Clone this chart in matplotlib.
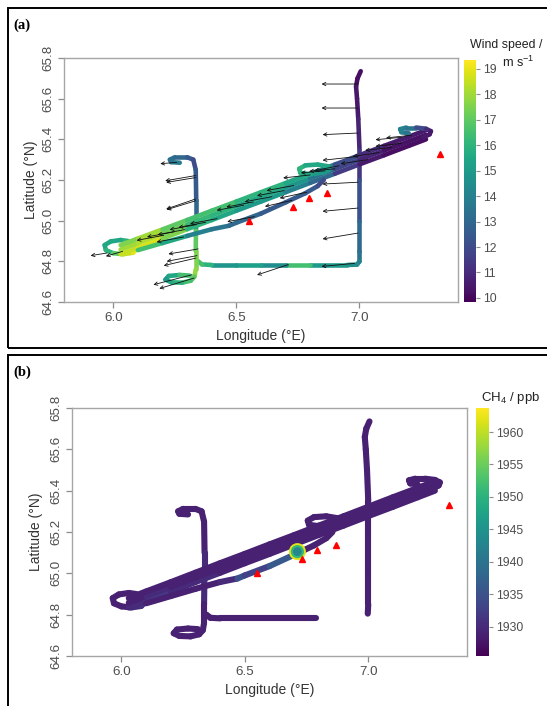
import matplotlib
matplotlib.use('Agg')
import numpy as np
import matplotlib.pyplot as plt
from matplotlib.collections import LineCollection
from matplotlib.colors import Normalize
from matplotlib.cm import ScalarMappable
from matplotlib.patches import Rectangle

plt.rcParams['font.family'] = ['Liberation Sans', 'DejaVu Sans']
plt.rcParams['mathtext.fontset'] = 'custom'
plt.rcParams['mathtext.rm'] = 'Liberation Sans'
plt.rcParams['mathtext.it'] = 'Liberation Sans:italic'

# ---------------- track geometry (lon, lat) ----------------
# east vertical leg + southern E-W leg (panel a)
E_lon = [7.005, 6.992, 6.986, 6.990, 6.995, 7.000, 7.000, 7.000, 7.000, 7.000, 6.990, 6.950, 6.800, 6.700, 6.600, 6.500, 6.400, 6.360, 6.345]
E_lat = [65.735, 65.700, 65.660, 65.600, 65.500, 65.350, 65.200, 65.000, 64.850, 64.800, 64.784, 64.782, 64.782, 64.782, 64.782, 64.782, 64.782, 64.785, 64.800]
E_ws = [10.2, 10.2, 10.4, 10.5, 10.8, 11.4, 12.2, 13.0, 13.4, 14.0, 14.5, 15.0, 16.5, 14.5, 15.2, 14.8, 16.0, 16.5, 17.0]

# panel b: east vertical leg and southern leg are separate
Eb_lon = [7.005, 6.992, 6.986, 6.990, 6.995, 7.000, 7.000, 7.000, 7.000, 6.998]
Eb_lat = [65.735, 65.700, 65.660, 65.600, 65.500, 65.350, 65.200, 65.000, 64.850, 64.805]
Eb_ch4 = [1929, 1929, 1929, 1929, 1929, 1929, 1929, 1929, 1929, 1929]
S_lon = [6.790, 6.700, 6.600, 6.500, 6.400, 6.360, 6.345]
S_lat = [64.782, 64.782, 64.782, 64.782, 64.782, 64.785, 64.800]
S_ch4 = [1929, 1929, 1929, 1929, 1929, 1929, 1929]

# west vertical leg with its two turns
W_lon = [6.270, 6.235, 6.230, 6.250, 6.300, 6.325, 6.335, 6.337, 6.337, 6.336, 6.335, 6.335, 6.330, 6.315, 6.280, 6.235, 6.212, 6.225, 6.270, 6.310]
W_lat = [65.285, 65.288, 65.300, 65.312, 65.312, 65.300, 65.250, 65.100, 65.000, 64.950, 64.850, 64.760, 64.725, 64.705, 64.695, 64.697, 64.710, 64.728, 64.733, 64.730]
W_ws = [13.8, 13.6, 13.3, 13.0, 12.5, 12.0, 12.5, 13.0, 15.0, 17.0, 17.5, 17.8, 17.0, 16.5, 16.0, 15.5, 15.0, 15.5, 16.5, 17.5]
W_ch4 = [1929, 1929, 1929, 1929, 1929, 1929, 1929, 1930, 1933, 1930, 1929, 1929, 1929, 1929, 1929, 1929, 1929, 1929, 1929, 1929]

# three passes along the long diagonal
D_lon = [6.030, 6.100, 6.200, 6.300, 6.400, 6.500, 6.600, 6.700, 6.800, 6.900, 7.000, 7.100, 7.200, 7.270]
D1_lat = [64.880, 64.912, 64.957, 65.003, 65.049, 65.094, 65.140, 65.185, 65.231, 65.276, 65.322, 65.368, 65.413, 65.445]
D2_lat = [64.835, 64.867, 64.912, 64.958, 65.003, 65.049, 65.094, 65.140, 65.186, 65.231, 65.277, 65.322, 65.368, 65.400]
D3_lat = [64.858, 64.890, 64.935, 64.980, 65.026, 65.072, 65.117, 65.163, 65.208, 65.254, 65.300, 65.345, 65.390, 65.422]
D1_ws = [17.5, 18.0, 17.0, 16.5, 16.5, 16.0, 16.0, 15.5, 14.0, 12.0, 11.0, 10.5, 10.5, 11.0]
D2_ws = [18.5, 18.8, 17.5, 16.0, 15.5, 15.0, 15.0, 14.0, 13.0, 11.5, 10.5, 10.2, 10.2, 10.2]
D3_ws = [18.0, 18.2, 17.2, 16.2, 16.0, 15.5, 15.5, 14.8, 13.5, 11.8, 10.8, 10.3, 10.3, 10.5]
D1_ch4 = [1929, 1929, 1929, 1929, 1929, 1929, 1929, 1929, 1929, 1929, 1929, 1929, 1929, 1929]
D2_ch4 = [1930, 1932, 1930, 1930, 1929, 1929, 1929, 1929, 1929, 1929, 1929, 1929, 1929, 1929]
D3_ch4 = [1929, 1930, 1929, 1929, 1929, 1929, 1929, 1929, 1929, 1929, 1929, 1929, 1929, 1929]

# western turn
L_lon = [6.060, 6.030, 5.990, 5.965, 5.970, 6.000, 6.040, 6.080, 6.095, 6.080, 6.050]
L_lat = [64.900, 64.905, 64.898, 64.880, 64.855, 64.840, 64.835, 64.842, 64.860, 64.880, 64.890]
L_ws = [16.0, 15.5, 15.5, 15.5, 16.0, 17.0, 18.5, 19.0, 19.0, 18.0, 17.0]
L_ch4 = [1929, 1929, 1929, 1929, 1929, 1929, 1930, 1931, 1930, 1929, 1929]

# eastern turn
R_lon = [7.200, 7.170, 7.165, 7.190, 7.230, 7.270, 7.290, 7.285, 7.260]
R_lat = [65.430, 65.435, 65.450, 65.458, 65.458, 65.452, 65.440, 65.425, 65.410]
R_ws = [13.5, 14.0, 14.0, 13.5, 12.0, 11.0, 10.5, 10.5, 10.5]
R_ch4 = [1929, 1929, 1929, 1929, 1929, 1929, 1929, 1929, 1929]

# turn near 6.8 E
M_lon = [6.840, 6.800, 6.760, 6.755, 6.780, 6.830, 6.870, 6.875, 6.850]
M_lat = [65.235, 65.228, 65.235, 65.255, 65.272, 65.276, 65.268, 65.250, 65.235]
M_ws = [15.0, 15.5, 16.0, 16.0, 15.5, 15.5, 15.5, 15.0, 14.5]
M_ch4 = [1929, 1929, 1929, 1929, 1929, 1929, 1929, 1929, 1929]

# lower branch
B_lon = [6.100, 6.200, 6.300, 6.400, 6.470, 6.500, 6.600, 6.700, 6.780, 6.830, 6.855]
B_lat = [64.855, 64.890, 64.925, 64.958, 64.975, 64.990, 65.035, 65.090, 65.135, 65.170, 65.200]
B_ws = [16.5, 15.5, 14.0, 13.5, 13.0, 13.0, 12.5, 12.5, 12.5, 12.0, 11.5]
B_ch4 = [1929, 1929, 1929, 1930, 1935, 1933, 1936, 1929, 1929, 1929, 1929]

# CH4 peak
peak_lon = [6.713, 6.713, 6.713]
peak_lat = [65.105, 65.105, 65.105]
peak_ch4 = [1962, 1951, 1943]

# platforms (red triangles)
plat_lon = [6.550, 6.730, 6.793, 6.870, 7.327]
plat_lat = [65.000, 65.067, 65.113, 65.136, 65.330]

# wind arrows: tail position and vector (deg)
arr_lon = [6.994, 6.994, 6.994, 6.994, 6.994, 6.994, 6.994, 6.980,
           6.258, 6.335, 6.335, 6.335, 6.335, 6.345, 6.340, 6.336, 6.320, 6.329, 6.711, 5.975, 6.038,
           6.205, 6.247, 6.290, 6.339, 6.375, 6.422, 6.530, 6.569, 6.644, 6.694, 6.733, 6.800, 6.860, 6.900,
           6.917, 7.033, 7.080, 7.130, 7.170, 7.170, 7.210, 6.286, 6.573, 6.726, 6.786]
arr_lat = [65.672, 65.554, 65.431, 65.316, 65.189, 65.062, 64.939, 64.790,
           65.287, 65.222, 65.212, 65.107, 65.098, 64.861, 64.828, 64.816, 64.734, 64.718, 64.784, 64.841, 64.849,
           64.928, 64.945, 64.956, 64.981, 64.992, 65.010, 65.076, 65.092, 65.118, 65.148, 65.173, 65.225, 65.245, 65.255,
           65.270, 65.300, 65.335, 65.360, 65.380, 65.410, 65.420, 64.920, 65.020, 65.100, 65.140]
arr_u = [-0.148, -0.148, -0.144, -0.144, -0.144, -0.144, -0.144, -0.134,
         -0.067, -0.124, -0.120, -0.120, -0.118, -0.121, -0.123, -0.131, -0.157, -0.142, -0.127, -0.067, -0.068,
         -0.110, -0.110, -0.110, -0.110, -0.110, -0.110, -0.110, -0.110, -0.110, -0.110, -0.110, -0.110, -0.098, -0.104,
         -0.100, -0.110, -0.107, -0.107, -0.105, -0.105, -0.102, -0.110, -0.110, -0.110, -0.110]
arr_v = [0.000, 0.000, -0.008, -0.019, -0.009, -0.016, -0.029, -0.015,
         -0.007, -0.026, -0.024, -0.050, -0.044, -0.025, -0.028, -0.037, -0.049, -0.052, -0.051, -0.013, -0.024,
         -0.025, -0.025, -0.025, -0.025, -0.025, -0.025, -0.025, -0.025, -0.025, -0.025, -0.025, -0.015, -0.010, -0.012,
         -0.024, -0.020, -0.019, -0.014, -0.014, -0.012, -0.013, -0.025, -0.025, -0.030, -0.029]

xticks = [6.0, 6.5, 7.0]
yticks = [64.6, 64.8, 65.0, 65.2, 65.4, 65.6, 65.8]
ws_ticks = [10, 11, 12, 13, 14, 15, 16, 17, 18, 19]
ch4_ticks = [1930, 1935, 1940, 1945, 1950, 1955, 1960]

W, H = 547, 706
fig = plt.figure(figsize=(W / 100, H / 100), dpi=100)

def fr(x0, y0, x1, y1):
    return [x0 / W, 1 - y1 / H, (x1 - x0) / W, (y1 - y0) / H]

cmap = plt.get_cmap('viridis')

def draw_track(ax, lon, lat, val, norm, lw):
    pts = np.column_stack([lon, lat])
    segs = np.stack([pts[:-1], pts[1:]], axis=1)
    lc = LineCollection(segs, cmap=cmap, norm=norm, linewidths=lw,
                        capstyle='round', joinstyle='round', zorder=2)
    lc.set_array(np.asarray(val[:-1], dtype=float))
    ax.add_collection(lc)

def style(ax, ylab_pad):
    ax.set_xlim(5.8, 7.4)
    ax.set_ylim(64.6, 65.8)
    ax.set_xticks(xticks)
    ax.set_xticklabels([f'{t:.1f}' for t in xticks])
    ax.set_yticks(yticks)
    ax.set_yticklabels([f'{t:.1f}' for t in yticks])
    for s in ax.spines.values():
        s.set_color('#a6a6a6')
        s.set_linewidth(1.0)
    ax.tick_params(colors='#8c8c8c', labelcolor='#4d4d4d', length=4, width=0.9, labelsize=9.6, pad=3)
    ax.tick_params(axis='y', labelrotation=90)
    for t in ax.get_yticklabels():
        t.set_va('center')
    ax.set_xlabel('Longitude (°E)', fontsize=10, color='#333333', labelpad=4)
    ax.set_ylabel('Latitude (°N)', fontsize=10, color='#333333', labelpad=ylab_pad)

def style_cb(cax, ticks):
    cax.set_yticks(ticks)
    cax.tick_params(colors='#8c8c8c', labelcolor='#4d4d4d', length=3, width=0.8, labelsize=8.8, pad=2)
    cax.yaxis.set_ticks_position('right')

# ---------------- panel (a) ----------------
ax1 = fig.add_axes(fr(64, 58, 458, 302))
norm_ws = Normalize(9.84, 19.35)
lw_a = 3.3
for lon, lat, val in [(E_lon, E_lat, E_ws), (W_lon, W_lat, W_ws), (L_lon, L_lat, L_ws),
                      (D_lon, D2_lat, D2_ws), (D_lon, D3_lat, D3_ws), (D_lon, D1_lat, D1_ws),
                      (B_lon, B_lat, B_ws), (M_lon, M_lat, M_ws), (R_lon, R_lat, R_ws)]:
    draw_track(ax1, lon, lat, val, norm_ws, lw_a)
for x, y, u, v in zip(arr_lon, arr_lat, arr_u, arr_v):
    ax1.annotate('', xy=(x + u, y + v), xytext=(x, y),
                 arrowprops=dict(arrowstyle='->', color='#111111', lw=0.6,
                                 mutation_scale=6, shrinkA=0, shrinkB=0), zorder=3)
ax1.plot(plat_lon, plat_lat, linestyle='none', marker='^', color='#ff0000', markersize=3.8, zorder=4)
style(ax1, 3)

cax1 = fig.add_axes(fr(464, 60, 476, 302))
cb1 = fig.colorbar(ScalarMappable(norm=norm_ws, cmap=cmap), cax=cax1)
cb1.outline.set_visible(False)
style_cb(cax1, ws_ticks)
fig.text(470 / W, 1 - 45 / H, 'Wind speed /', ha='left', va='center', fontsize=8.9, color='#222222')
fig.text(518 / W, 1 - 62 / H, r'm s$^{\mathregular{-1}}$', ha='center', va='center', fontsize=9.2, color='#222222')

# ---------------- panel (b) ----------------
ax2 = fig.add_axes(fr(72, 408, 467, 656))
norm_ch4 = Normalize(1925.5, 1963.7)
lw_b = 4.4
for lon, lat, val in [(Eb_lon, Eb_lat, Eb_ch4), (S_lon, S_lat, S_ch4), (W_lon, W_lat, W_ch4),
                      (L_lon, L_lat, L_ch4), (D_lon, D2_lat, D2_ch4), (D_lon, D3_lat, D3_ch4),
                      (D_lon, D1_lat, D1_ch4), (B_lon, B_lat, B_ch4), (M_lon, M_lat, M_ch4),
                      (R_lon, R_lat, R_ch4)]:
    draw_track(ax2, lon, lat, val, norm_ch4, lw_b)
ax2.scatter(peak_lon, peak_lat, c=peak_ch4, cmap=cmap, norm=norm_ch4,
            s=[150, 90, 40], linewidths=0, zorder=3)
ax2.plot(plat_lon, plat_lat, linestyle='none', marker='^', color='#ff0000', markersize=3.8, zorder=4)
style(ax2, 5)

cax2 = fig.add_axes(fr(476, 408, 489, 656))
cb2 = fig.colorbar(ScalarMappable(norm=norm_ch4, cmap=cmap), cax=cax2)
cb2.outline.set_visible(False)
style_cb(cax2, ch4_ticks)
fig.text(511 / W, 1 - 398 / H, r'CH$_{\mathregular{4}}$ / ppb', ha='center', va='center', fontsize=9.5, color='#222222')

# ---------------- panel frames and labels ----------------
fig.patches.append(Rectangle((8 / W, 1 - 348 / H), 1.0, 340 / H, transform=fig.transFigure,
                             fill=False, ec='black', lw=1.4))
fig.patches.append(Rectangle((8 / W, -0.1), 1.0, 0.1 + 1 - 355 / H, transform=fig.transFigure,
                             fill=False, ec='black', lw=1.4))
fig.text(13 / W, 1 - 25 / H, '(a)', family='Liberation Serif', fontweight='bold', fontsize=10.5,
         ha='left', va='center')
fig.text(13 / W, 1 - 372 / H, '(b)', family='Liberation Serif', fontweight='bold', fontsize=10.5,
         ha='left', va='center')

fig.savefig('out.png', dpi=100)
